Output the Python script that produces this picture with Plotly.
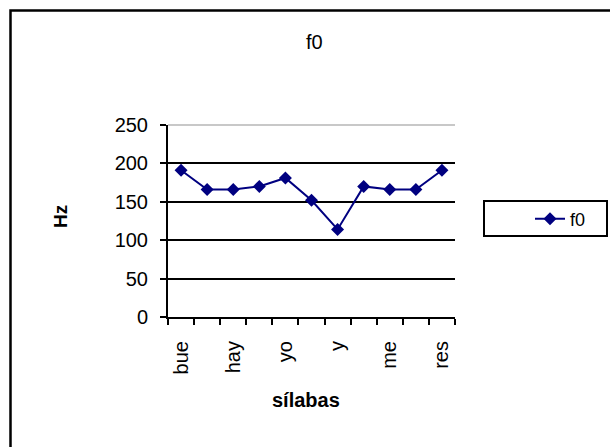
import plotly.graph_objects as go

# Data
positions = [1, 2, 3, 4, 5, 6, 7, 8, 9, 10, 11]
f0_values = [191, 166, 166, 170, 181, 152, 114, 170, 166, 166, 191]
tick_positions = [1, 3, 5, 7, 9, 11]
tick_labels = ["bue", "hay", "yo", "y", "me", "res"]
boundaries = [0.5 + i for i in range(12)]
y_ticks = [0, 50, 100, 150, 200, 250]

W, H = 610, 447
L, R, T, B = 168, 155, 125, 130
pw, ph = W - L - R, H - T - B

def px_x(x):
    return (x - L) / pw

def px_y(y):
    return 1 - (y - T) / ph

fig = go.Figure()
fig.add_trace(go.Scatter(
    x=positions, y=f0_values, mode="lines+markers", name="f0",
    line=dict(color="#000080", width=2),
    marker=dict(symbol="diamond", size=10, color="#000080"),
))

fig.update_layout(
    width=W, height=H,
    margin=dict(l=L, r=R, t=T, b=B),
    paper_bgcolor="white", plot_bgcolor="white",
    font=dict(family="Arial, Liberation Sans, sans-serif", color="black"),
    showlegend=True,
    legend=dict(x=px_x(530), y=px_y(219), xanchor="left", yanchor="middle",
                borderwidth=0, bgcolor="rgba(0,0,0,0)",
                font=dict(size=18)),
    annotations=[
        dict(text="f0", x=px_x(314), y=px_y(42), xref="paper", yref="paper",
             xanchor="center", yanchor="middle",
             showarrow=False, font=dict(size=20)),
        dict(text="<b>Hz</b>", x=px_x(60), y=px_y(217), xref="paper", yref="paper",
             xanchor="center", yanchor="middle",
             showarrow=False, textangle=-90, font=dict(size=19)),
        dict(text="<b>sílabas</b>", x=px_x(306), y=px_y(400), xref="paper", yref="paper",
             xanchor="center", yanchor="middle",
             showarrow=False, font=dict(size=20)),
    ],
    shapes=[
        dict(type="rect", xref="paper", yref="paper",
             x0=px_x(10.5), x1=px_x(640), y0=px_y(10.5), y1=px_y(480),
             line=dict(color="black", width=2.5), layer="below"),
        dict(type="line", xref="paper", yref="paper", x0=0, x1=1, y0=1, y1=1,
             line=dict(color="#c8c8c8", width=2), layer="above"),
        dict(type="rect", xref="paper", yref="paper",
             x0=px_x(484), x1=px_x(607), y0=px_y(201), y1=px_y(236),
             line=dict(color="black", width=2), layer="below"),
    ],
)

fig.update_xaxes(
    range=[0.5, 11.5], tickmode="array", tickvals=tick_positions, ticktext=tick_labels,
    tickangle=-90, tickfont=dict(size=20), ticks="", showgrid=False, zeroline=False,
    showline=True, linecolor="black", linewidth=2, ticklabelstandoff=14,
    minor=dict(tickmode="array", tickvals=boundaries, ticks="outside", ticklen=6,
               tickwidth=2, tickcolor="black", showgrid=False),
)
fig.update_yaxes(
    range=[0, 250], tickmode="array", tickvals=y_ticks, tickfont=dict(size=20),
    ticks="outside", ticklen=6, tickwidth=2, tickcolor="black", ticklabelstandoff=8,
    showgrid=True, gridcolor="black", gridwidth=2, zeroline=False,
    showline=True, linecolor="black", linewidth=2,
)

fig.write_html("out.html", config={"displayModeBar": False},
               post_script="document.body.style.margin='0px';")
